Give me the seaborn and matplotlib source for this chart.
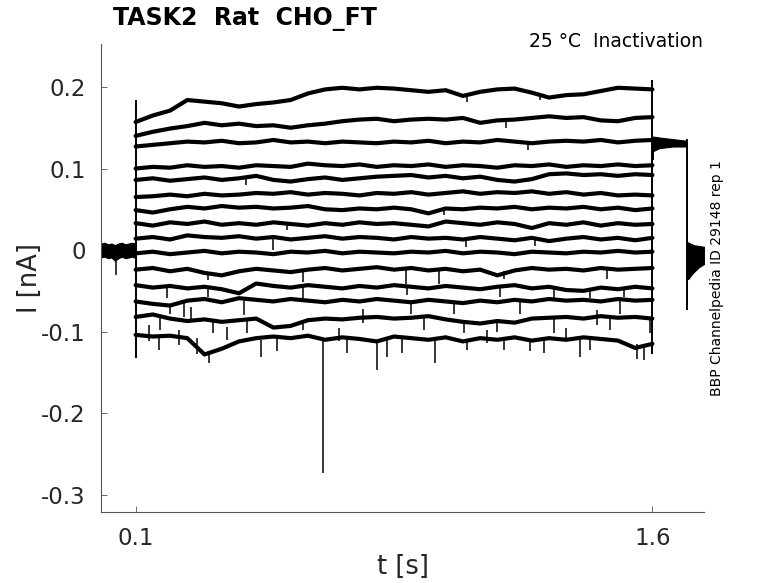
import numpy as np
import pandas as pd
import matplotlib
matplotlib.use("Agg")
import matplotlib.pyplot as plt
import seaborn as sns

# =========================================
# DATA (nA vs s)
# =========================================

pulse_t = [0.10, 0.15, 0.20, 0.25, 0.30, 0.35, 0.40, 0.45, 0.50, 0.55,
           0.60, 0.65, 0.70, 0.75, 0.80, 0.85, 0.90, 0.95, 1.00, 1.05,
           1.10, 1.15, 1.20, 1.25, 1.30, 1.35, 1.40, 1.45, 1.50, 1.55, 1.60]

sweep1 = [0.157, 0.165, 0.171, 0.184, 0.182, 0.180, 0.176, 0.179, 0.181, 0.184,
          0.192, 0.197, 0.199, 0.197, 0.199, 0.198, 0.196, 0.194, 0.196, 0.189,
          0.194, 0.197, 0.198, 0.193, 0.187, 0.190, 0.191, 0.195, 0.199, 0.198, 0.197]
sweep2 = [0.140, 0.145, 0.149, 0.152, 0.156, 0.153, 0.155, 0.152, 0.153, 0.150,
          0.153, 0.155, 0.158, 0.160, 0.161, 0.158, 0.160, 0.161, 0.160, 0.162,
          0.156, 0.159, 0.160, 0.162, 0.164, 0.162, 0.163, 0.159, 0.158, 0.162, 0.163]
sweep3 = [0.127, 0.129, 0.131, 0.133, 0.132, 0.134, 0.131, 0.132, 0.135, 0.132,
          0.133, 0.131, 0.133, 0.132, 0.131, 0.133, 0.132, 0.134, 0.131, 0.133,
          0.132, 0.135, 0.133, 0.131, 0.133, 0.134, 0.133, 0.135, 0.132, 0.134, 0.135]
sweep4 = [0.100, 0.102, 0.101, 0.104, 0.102, 0.103, 0.101, 0.104, 0.103, 0.102,
          0.106, 0.104, 0.103, 0.105, 0.102, 0.104, 0.103, 0.105, 0.102, 0.104,
          0.103, 0.101, 0.104, 0.103, 0.105, 0.102, 0.104, 0.103, 0.105, 0.103, 0.104]
sweep5 = [0.086, 0.088, 0.085, 0.087, 0.089, 0.086, 0.088, 0.091, 0.086, 0.084,
          0.087, 0.089, 0.086, 0.088, 0.090, 0.091, 0.092, 0.089, 0.091, 0.088,
          0.090, 0.086, 0.084, 0.087, 0.093, 0.094, 0.092, 0.093, 0.091, 0.093, 0.092]
sweep6 = [0.065, 0.066, 0.068, 0.066, 0.069, 0.067, 0.068, 0.070, 0.069, 0.071,
          0.068, 0.070, 0.069, 0.067, 0.070, 0.069, 0.071, 0.068, 0.070, 0.072,
          0.069, 0.071, 0.070, 0.072, 0.069, 0.071, 0.068, 0.070, 0.067, 0.068, 0.067]
sweep7 = [0.049, 0.046, 0.050, 0.053, 0.051, 0.054, 0.052, 0.053, 0.051, 0.052,
          0.054, 0.050, 0.049, 0.051, 0.050, 0.052, 0.050, 0.045, 0.051, 0.050,
          0.052, 0.051, 0.053, 0.050, 0.052, 0.051, 0.053, 0.050, 0.052, 0.049, 0.051]
sweep8 = [0.033, 0.030, 0.034, 0.032, 0.035, 0.031, 0.033, 0.031, 0.034, 0.032,
          0.030, 0.033, 0.031, 0.034, 0.032, 0.033, 0.031, 0.029, 0.035, 0.033,
          0.031, 0.034, 0.032, 0.027, 0.033, 0.031, 0.034, 0.030, 0.033, 0.031, 0.032]
sweep9 = [0.014, 0.016, 0.013, 0.018, 0.016, 0.015, 0.017, 0.014, 0.016, 0.013,
          0.015, 0.017, 0.014, 0.016, 0.015, 0.013, 0.016, 0.014, 0.015, 0.013,
          0.016, 0.014, 0.012, 0.015, 0.011, 0.014, 0.016, 0.013, 0.015, 0.012, 0.015]
sweep10 = [-0.004, -0.002, -0.005, -0.003, -0.001, -0.004, -0.002, -0.003, -0.005, -0.002,
           -0.003, -0.001, -0.004, -0.002, -0.003, -0.004, -0.002, -0.003, -0.001, -0.004,
           -0.002, -0.003, -0.005, -0.002, -0.003, -0.004, -0.002, -0.003, -0.001, -0.003, -0.002]
sweep11 = [-0.024, -0.022, -0.026, -0.023, -0.028, -0.031, -0.026, -0.023, -0.025, -0.027,
           -0.024, -0.022, -0.025, -0.023, -0.021, -0.024, -0.022, -0.025, -0.023, -0.026,
           -0.024, -0.031, -0.025, -0.022, -0.024, -0.023, -0.025, -0.022, -0.024, -0.023, -0.022]
sweep12 = [-0.043, -0.046, -0.044, -0.047, -0.045, -0.048, -0.053, -0.041, -0.044, -0.046,
           -0.043, -0.045, -0.047, -0.044, -0.046, -0.043, -0.045, -0.047, -0.044, -0.046,
           -0.048, -0.045, -0.043, -0.047, -0.045, -0.049, -0.050, -0.046, -0.048, -0.045, -0.047]
sweep13 = [-0.063, -0.066, -0.068, -0.062, -0.060, -0.064, -0.059, -0.061, -0.063, -0.060,
           -0.062, -0.064, -0.061, -0.063, -0.060, -0.062, -0.064, -0.061, -0.063, -0.065,
           -0.062, -0.064, -0.061, -0.063, -0.060, -0.062, -0.061, -0.063, -0.060, -0.062, -0.061]
sweep14 = [-0.082, -0.079, -0.084, -0.087, -0.085, -0.088, -0.086, -0.084, -0.095, -0.093,
           -0.086, -0.084, -0.085, -0.083, -0.082, -0.084, -0.083, -0.081, -0.085, -0.088,
           -0.090, -0.087, -0.089, -0.084, -0.083, -0.082, -0.084, -0.081, -0.083, -0.082, -0.084]
sweep15 = [-0.104, -0.106, -0.105, -0.108, -0.128, -0.121, -0.112, -0.108, -0.106, -0.108,
           -0.105, -0.110, -0.107, -0.109, -0.112, -0.106, -0.108, -0.110, -0.107, -0.112,
           -0.108, -0.110, -0.107, -0.111, -0.108, -0.110, -0.107, -0.109, -0.111, -0.120, -0.115]

sweeps = [sweep1, sweep2, sweep3, sweep4, sweep5, sweep6, sweep7, sweep8,
          sweep9, sweep10, sweep11, sweep12, sweep13, sweep14, sweep15]

# holding segment before the pulse (band of all sweeps)
base_t = [0.00, 0.01, 0.02, 0.03, 0.04, 0.05, 0.06, 0.07, 0.08, 0.09, 0.10]
base_hi = [0.008, 0.009, 0.007, 0.008, 0.006, 0.008, 0.009, 0.007, 0.008, 0.009, 0.008]
base_lo = [-0.009, -0.008, -0.010, -0.009, -0.013, -0.010, -0.008, -0.010, -0.009, -0.008, -0.010]

# first tail (after 1.6 s) and second tail (after 1.7 s)
tail1_t = [1.600, 1.605, 1.62, 1.64, 1.66, 1.68, 1.700]
tail1_hi = [0.139, 0.139, 0.138, 0.137, 0.136, 0.135, 0.134]
tail1_lo = [0.121, 0.122, 0.125, 0.126, 0.127, 0.127, 0.127]
tail2_t = [1.700, 1.705, 1.71, 1.72, 1.735, 1.75]
tail2_hi = [0.010, 0.009, 0.008, 0.006, 0.005, 0.004]
tail2_lo = [-0.036, -0.035, -0.032, -0.027, -0.021, -0.017]

# capacitive transients at the voltage steps
trans_t = [0.100, 1.600, 1.701, 1.603]
trans_top = [0.184, 0.208, 0.136, 0.125]
trans_bottom = [-0.132, -0.128, -0.073, 0.110]

# sharp noise spikes (mostly downward)
spike_t = [0.042, 0.167, 0.279, 0.312, 0.463, 0.511, 0.645, 0.714, 0.801, 0.830,
           0.874, 0.970, 1.062, 1.169, 1.246, 1.285, 1.391, 1.420, 1.556, 1.575,
           0.171, 0.326, 0.423, 0.587, 0.937, 1.053, 1.150, 1.314, 1.478, 1.594,
           0.200, 0.240, 0.416, 0.898, 1.024, 1.217, 1.507,
           0.190, 0.310, 0.585, 0.888, 1.159, 1.314, 1.420, 1.517,
           0.310, 0.585, 0.884, 0.980, 1.169, 1.469,
           0.500, 1.060, 1.260, 0.995, 0.540, 1.240, 1.174, 1.062, 1.275, 0.420,
           0.140, 0.225, 0.365, 0.690, 1.120, 1.350, 0.260, 0.760, 1.440]
spike_top = [-0.004, -0.106, -0.108, -0.125, -0.110, -0.108, -0.108, -0.108, -0.110, -0.110,
             -0.108, -0.108, -0.110, -0.108, -0.110, -0.108, -0.110, -0.108, -0.115, -0.118,
             -0.080, -0.087, -0.086, -0.086, -0.083, -0.088, -0.088, -0.084, -0.083, -0.083,
             -0.066, -0.063, -0.063, -0.062, -0.063, -0.062, -0.061,
             -0.045, -0.046, -0.045, -0.045, -0.047, -0.046, -0.049, -0.047,
             -0.028, -0.025, -0.024, -0.023, -0.026, -0.024,
             0.015, 0.013, 0.014, 0.051, 0.033, 0.131, 0.159, 0.190, 0.192, 0.088,
             -0.092, -0.098, -0.094, -0.095, -0.098, -0.096, -0.070, -0.072, -0.074]
spike_bottom = [-0.031, -0.122, -0.127, -0.139, -0.131, -0.124, -0.273, -0.126, -0.147, -0.131,
                -0.126, -0.139, -0.122, -0.122, -0.124, -0.126, -0.131, -0.122, -0.133, -0.135,
                -0.098, -0.102, -0.102, -0.098, -0.098, -0.102, -0.100, -0.102, -0.098, -0.102,
                -0.078, -0.082, -0.080, -0.078, -0.078, -0.078, -0.078,
                -0.059, -0.057, -0.061, -0.055, -0.057, -0.059, -0.059, -0.057,
                -0.037, -0.039, -0.041, -0.041, -0.035, -0.035,
                0.000, 0.004, 0.005, 0.043, 0.025, 0.123, 0.150, 0.182, 0.184, 0.080,
                -0.112, -0.116, -0.110, -0.112, -0.114, -0.112, -0.088, -0.090, -0.092]

# =========================================
# LONG TABLE FOR SEABORN
# =========================================

rows = []
for k, vals in enumerate(sweeps):
    for t, v in zip(pulse_t, vals):
        rows.append({"t": t, "I": v, "sweep": k + 1})
df = pd.DataFrame(rows)

# =========================================
# PLOT
# =========================================

sns.set_style("white")
plt.rcParams['font.family'] = ['DejaVu Sans']
grey = '#262626'

fig = plt.figure(figsize=(7.78, 5.83), dpi=100)
ax = fig.add_axes([0.130, 0.122, 0.775, 0.803])

sns.lineplot(data=df, x="t", y="I", units="sweep", estimator=None,
             color="black", linewidth=3.0, ax=ax, legend=False)

ax.fill_between(base_t, base_lo, base_hi, color="black", linewidth=0.8)
ax.fill_between(tail1_t, tail1_lo, tail1_hi, color="black", linewidth=0.8)
ax.fill_between(tail2_t, tail2_lo, tail2_hi, color="black", linewidth=0.8)
ax.vlines(trans_t, trans_bottom, trans_top, color="black", linewidth=1.4)
ax.vlines(spike_t, spike_bottom, spike_top, color="black", linewidth=1.1)

ax.set_xlim(0, 1.75)
ax.set_ylim(-0.321, 0.253)
ax.set_xticks([0.1, 1.6])
ax.set_xticklabels(["0.1", "1.6"])
ax.set_yticks([-0.3, -0.2, -0.1, 0, 0.1, 0.2])
ax.set_yticklabels(["-0.3", "-0.2", "-0.1", "0", "0.1", "0.2"])

for side in ["top", "right"]:
    ax.spines[side].set_visible(False)
for side in ["left", "bottom"]:
    ax.spines[side].set_color("#555555")
    ax.spines[side].set_linewidth(0.8)

ax.tick_params(left=True, bottom=True, direction="in", length=4, width=0.6,
               colors="#555555", labelcolor=grey, labelsize=16.5, pad=11)

ax.set_xlabel("t [s]", fontsize=18.5, color=grey)
ax.set_ylabel("I [nA]", fontsize=18.5, color=grey)
ax.xaxis.set_label_coords(0.5, -0.090)
ax.yaxis.set_label_coords(-0.097, 0.5)

fig.text(0.145, 0.968, "TASK2  Rat  CHO_FT", fontsize=17, fontweight="bold",
         ha="left", va="center", color="black")
fig.text(0.903, 0.929, "25 °C  Inactivation", fontsize=13.5,
         ha="right", va="center", color="black")
fig.text(0.921, 0.523, "BBP Channelpedia ID 29148 rep 1", fontsize=10,
         rotation=90, ha="center", va="center", color="black")

fig.savefig("out.png", dpi=100)
